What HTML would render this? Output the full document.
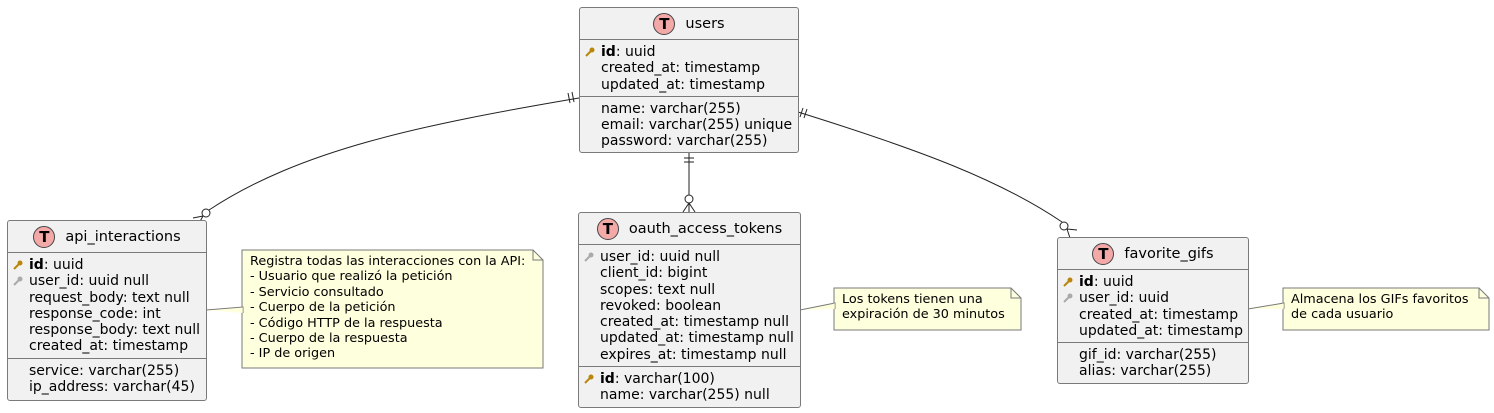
<!DOCTYPE html>
<html><head><meta charset="utf-8"><style>
body{margin:0;width:1494px;height:413px;background:#fff;position:relative;overflow:hidden;font-family:"DejaVu Sans","Liberation Sans",sans-serif;color:#000}
.box{position:absolute;background:#F1F1F1;border:1px solid #7a7a7a;border-radius:3px;box-sizing:border-box}
.hd{height:31px;border-bottom:1px solid #7a7a7a;display:flex;align-items:center;justify-content:center;font-size:14.5px}
.t{width:22px;height:22px;border-radius:50%;background:#F4A9A9;border:1px solid #444;box-sizing:border-box;font-weight:bold;font-size:15px;display:flex;align-items:center;justify-content:center;margin-right:10px}
.sec{padding:4px 0 3px 0}
.sec+.sec{border-top:1px solid #7a7a7a}
.r{height:16.3px;line-height:16.3px;font-size:14px;padding-left:21px;position:relative;white-space:nowrap}
.r svg{position:absolute;left:5px;top:3px}
.note{position:absolute;font-size:12.8px;line-height:15.4px;padding:4px 0 0 8px;white-space:nowrap;box-sizing:border-box}
svg.ln{position:absolute;left:0;top:0}
</style></head><body>
<svg class="ln" width="1494" height="413" fill="none" stroke="#222" stroke-width="1">
<path d="M579,98 C420,125 300,150 209,210"/>
<path d="M572,92 L574,102 M568,93 L570,103"/>
<circle cx="206" cy="213" r="4" fill="#fff"/>
<path d="M203,216 L193,218 M203,216 L198,225"/>
<path d="M689,152 L689,212"/>
<path d="M684,158 L694,158 M684,162 L694,162"/>
<circle cx="689" cy="199" r="4" fill="#fff"/>
<path d="M689,203 L683,212 M689,203 L695,212 M689,203 L689,212"/>
<path d="M798,112 C920,150 1000,180 1062,222"/>
<path d="M803,108 L800,117 M807,109 L804,118"/>
<circle cx="1064" cy="226" r="4" fill="#fff"/>
<path d="M1067,229 L1077,230 M1067,229 L1070,238"/>
<g fill="#FEFFDD" stroke="#7a7a7a">
<path d="M242,250 L533,250 L543,260 L543,368 L242,368 Z"/>
<path d="M533,250 L533,260 L543,260" fill="none"/>
<path d="M834,288 L1011,288 L1021,298 L1021,330 L834,330 Z"/>
<path d="M1011,288 L1011,298 L1021,298" fill="none"/>
<path d="M1283,288 L1479,288 L1489,298 L1489,330 L1283,330 Z"/>
<path d="M1479,288 L1479,298 L1489,298" fill="none"/>
</g>
<path d="M206,310 L243,307 L243,313" fill="#FEFFDD" stroke="#7a7a7a"/>
<path d="M242,307.5 L242,312.5" stroke="#FEFFDD" stroke-width="1.5"/>
<path d="M800,310 L835,303 L835,309" fill="#FEFFDD" stroke="#7a7a7a"/>
<path d="M834,303.5 L834,308.5" stroke="#FEFFDD" stroke-width="1.5"/>
<path d="M1248,309 L1284,303 L1284,309" fill="#FEFFDD" stroke="#7a7a7a"/>
<path d="M1283,303.5 L1283,308.5" stroke="#FEFFDD" stroke-width="1.5"/>
</svg>

<div class="box" style="left:579px;top:7px;width:220px;height:146px">
<div class="hd"><div class="t">T</div>users</div>
<div class="sec">
<div class="r"><svg width="10" height="10"><circle cx="7" cy="3" r="2.5" fill="#B8860B"/><path d="M6,4 L1,9" stroke="#B8860B" stroke-width="2"/></svg><b>id</b>: uuid</div>
<div class="r">created_at: timestamp</div>
<div class="r">updated_at: timestamp</div></div>
<div class="sec">
<div class="r">name: varchar(255)</div>
<div class="r">email: varchar(255) unique</div>
<div class="r">password: varchar(255)</div></div>
</div>

<div class="box" style="left:7px;top:220px;width:200px;height:181px">
<div class="hd"><div class="t">T</div>api_interactions</div>
<div class="sec">
<div class="r"><svg width="10" height="10"><circle cx="7" cy="3" r="2.5" fill="#B8860B"/><path d="M6,4 L1,9" stroke="#B8860B" stroke-width="2"/></svg><b>id</b>: uuid</div>
<div class="r"><svg width="10" height="10"><circle cx="7" cy="3" r="2.5" fill="#aaa"/><path d="M6,4 L1,9" stroke="#aaa" stroke-width="2"/></svg>user_id: uuid null</div>
<div class="r">request_body: text null</div>
<div class="r">response_code: int</div>
<div class="r">response_body: text null</div>
<div class="r">created_at: timestamp</div></div>
<div class="sec">
<div class="r">service: varchar(255)</div>
<div class="r">ip_address: varchar(45)</div></div>
</div>

<div class="box" style="left:578px;top:212px;width:223px;height:196px">
<div class="hd"><div class="t">T</div>oauth_access_tokens</div>
<div class="sec">
<div class="r"><svg width="10" height="10"><circle cx="7" cy="3" r="2.5" fill="#aaa"/><path d="M6,4 L1,9" stroke="#aaa" stroke-width="2"/></svg>user_id: uuid null</div>
<div class="r">client_id: bigint</div>
<div class="r">scopes: text null</div>
<div class="r">revoked: boolean</div>
<div class="r">created_at: timestamp null</div>
<div class="r">updated_at: timestamp null</div>
<div class="r">expires_at: timestamp null</div></div>
<div class="sec">
<div class="r"><svg width="10" height="10"><circle cx="7" cy="3" r="2.5" fill="#B8860B"/><path d="M6,4 L1,9" stroke="#B8860B" stroke-width="2"/></svg><b>id</b>: varchar(100)</div>
<div class="r">name: varchar(255) null</div></div>
</div>

<div class="box" style="left:1057px;top:237px;width:192px;height:147px">
<div class="hd"><div class="t">T</div>favorite_gifs</div>
<div class="sec">
<div class="r"><svg width="10" height="10"><circle cx="7" cy="3" r="2.5" fill="#B8860B"/><path d="M6,4 L1,9" stroke="#B8860B" stroke-width="2"/></svg><b>id</b>: uuid</div>
<div class="r"><svg width="10" height="10"><circle cx="7" cy="3" r="2.5" fill="#aaa"/><path d="M6,4 L1,9" stroke="#aaa" stroke-width="2"/></svg>user_id: uuid</div>
<div class="r">created_at: timestamp</div>
<div class="r">updated_at: timestamp</div></div>
<div class="sec">
<div class="r">gif_id: varchar(255)</div>
<div class="r">alias: varchar(255)</div></div>
</div>

<div class="note" style="left:242px;top:250px;width:301px;height:119px">Registra todas las interacciones con la API:<br>- Usuario que realizó la petición<br>- Servicio consultado<br>- Cuerpo de la petición<br>- Código HTTP de la respuesta<br>- Cuerpo de la respuesta<br>- IP de origen</div>
<div class="note" style="left:834px;top:288px;width:187px;height:43px">Los tokens tienen una<br>expiración de 30 minutos</div>
<div class="note" style="left:1283px;top:288px;width:206px;height:43px">Almacena los GIFs favoritos<br>de cada usuario</div>
</body></html>
